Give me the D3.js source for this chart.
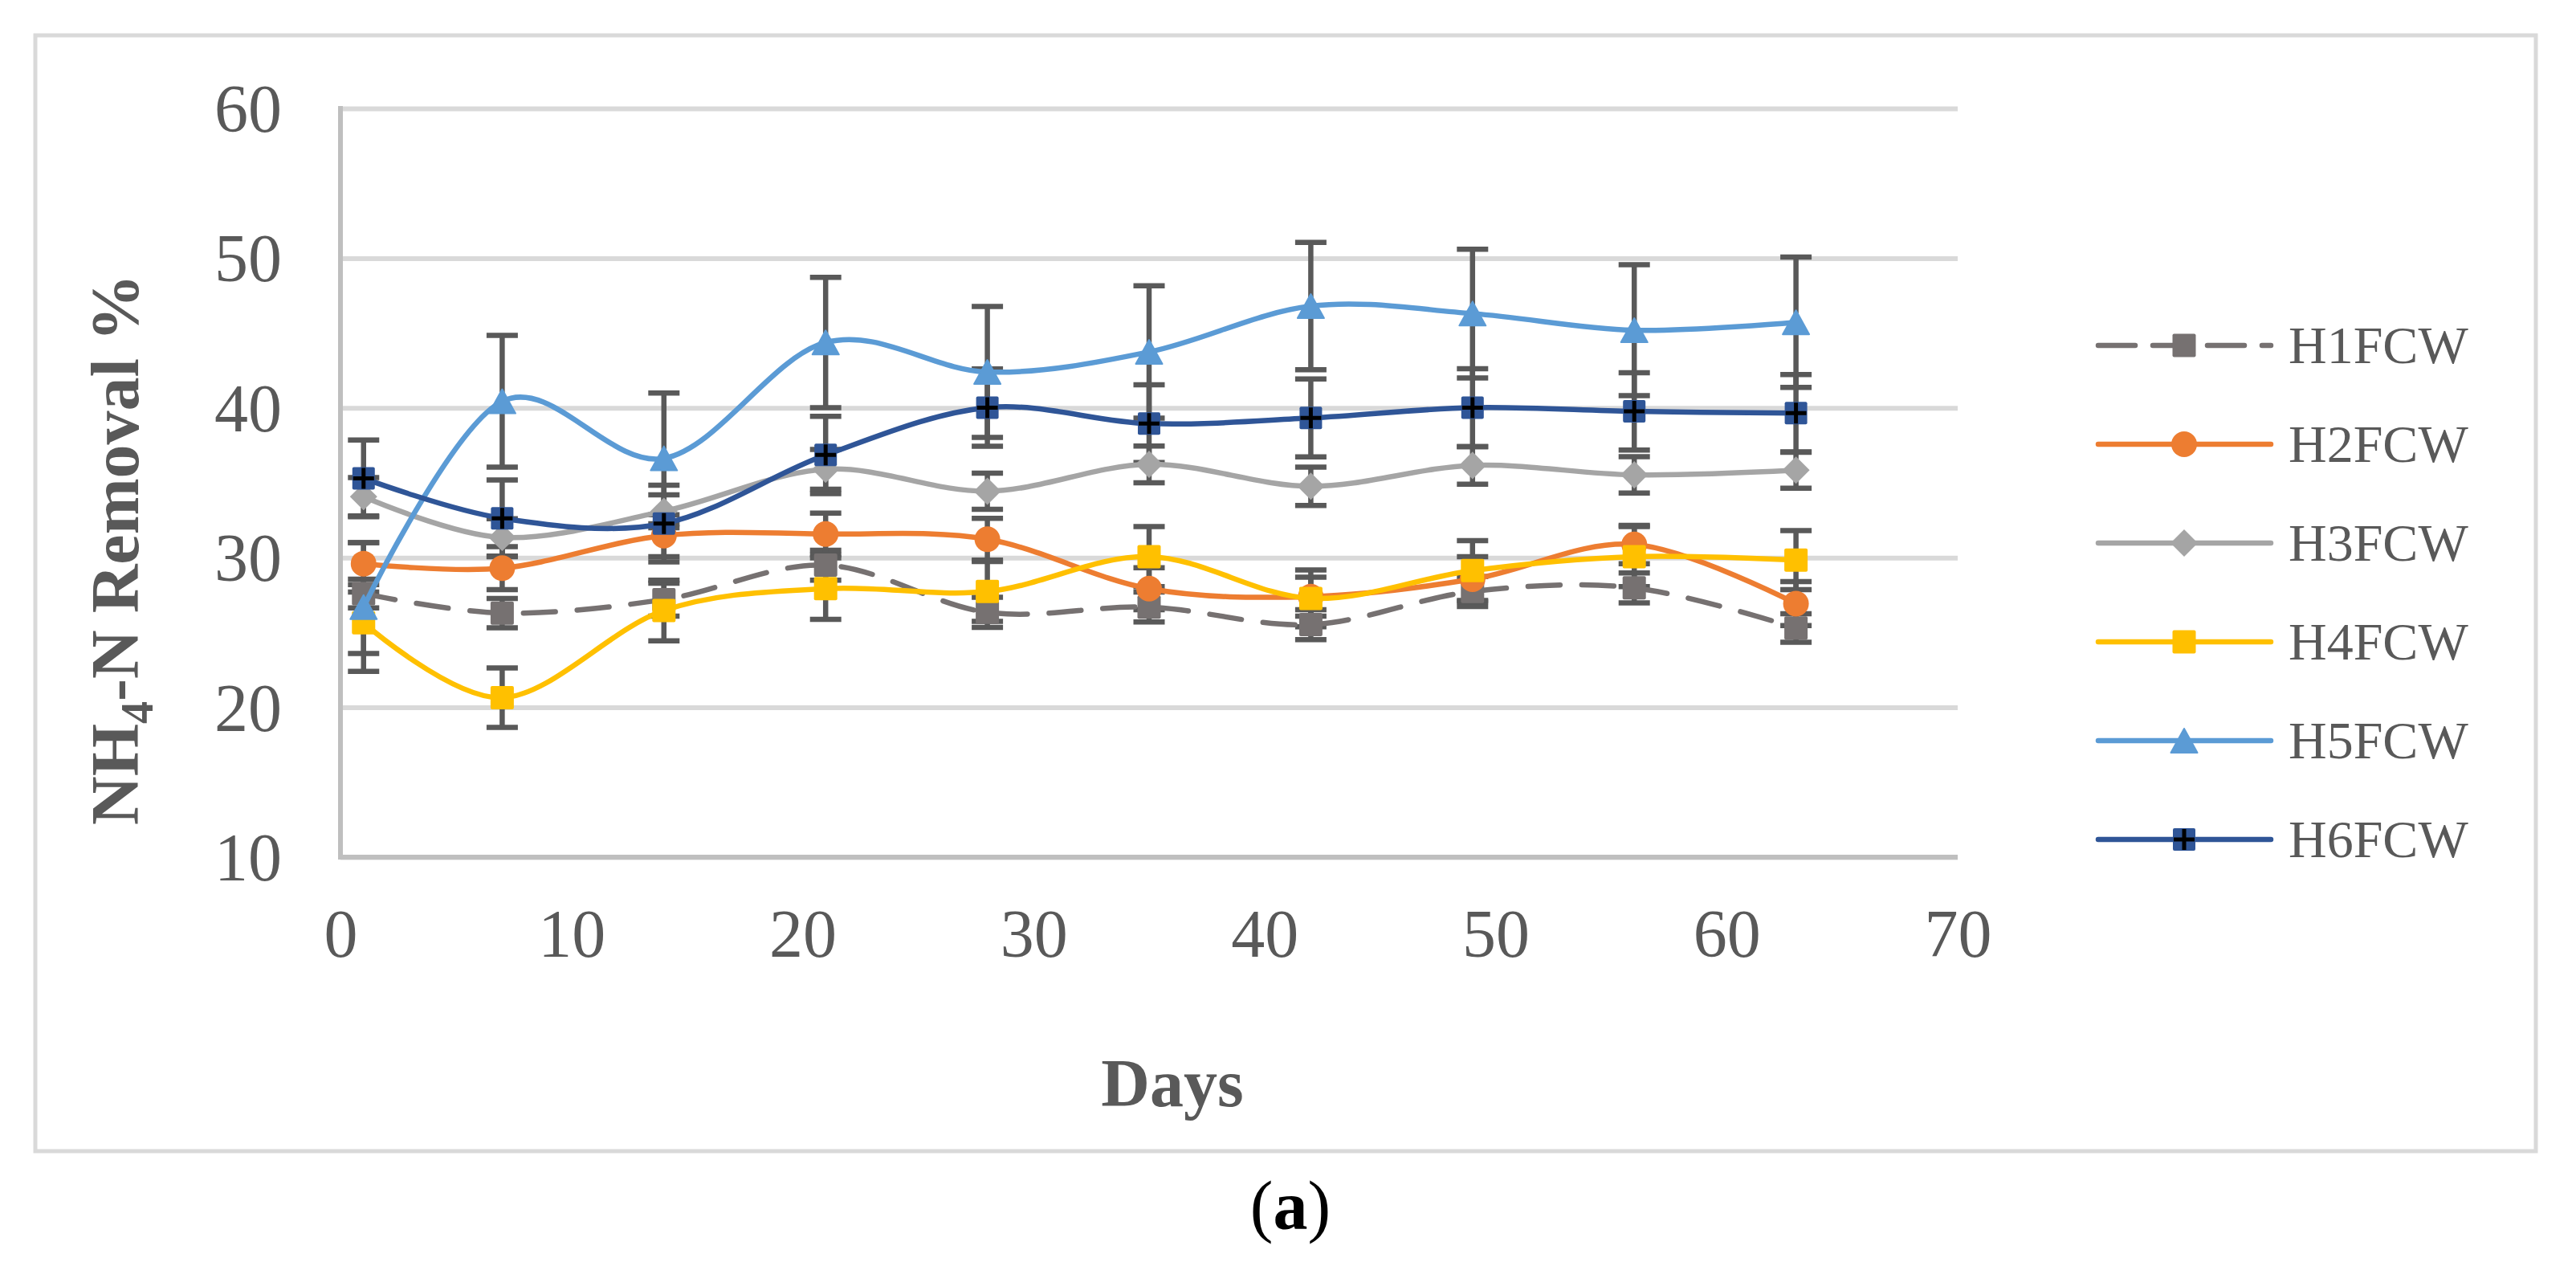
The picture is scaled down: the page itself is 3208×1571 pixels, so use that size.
<!DOCTYPE html>
<html>
<head>
<meta charset="utf-8">
<script src="https://cdn.jsdelivr.net/npm/d3@7"></script>
<style>
  body { margin: 0; background: #fff; }
  text { font-family: "Liberation Serif", "Times New Roman", serif; }
</style>
</head>
<body>
<div id="chart"></div>
<script>
const days = [1, 7, 14, 21, 28, 35, 42, 49, 56, 63];
const names = ["H1FCW", "H2FCW", "H3FCW", "H4FCW", "H5FCW", "H6FCW"];
const colors = ["#767171", "#ed7d31", "#a5a5a5", "#ffc000", "#5b9bd5", "#2f5597"];
const shapes = ["square", "circle", "diamond", "square", "triangle", "plus"];

const h1 = [27.6, 26.3, 27.2, 29.5, 26.35, 26.7, 25.53, 27.74, 27.98, 25.3];
const h2 = [29.6, 29.3, 31.47, 31.58, 31.23, 27.93, 27.4, 28.56, 30.88, 26.93];
const h3 = [34.07, 31.35, 33.1, 35.9, 34.44, 36.23, 34.77, 36.16, 35.53, 35.84];
const h4 = [25.65, 20.65, 26.47, 27.93, 27.74, 30.07, 27.28, 29.14, 30.07, 29.84];
const h5 = [26.7, 40.44, 36.63, 44.37, 42.4, 43.74, 46.8, 46.3, 45.19, 45.72];
const h6 = [35.3, 32.63, 32.28, 36.86, 40.02, 38.95, 39.33, 40.02, 39.77, 39.65];

const h1Err = [0.96, 0.98, 1.1, 1.0, 1.0, 1.0, 1.0, 1.0, 1.0, 0.95];
const h2Err = [1.4, 1.44, 1.4, 1.4, 1.4, 1.4, 1.3, 1.5, 1.28, 1.47];
const h3Err = [1.28, 1.25, 1.1, 1.33, 1.21, 1.23, 1.28, 1.25, 1.21, 1.2];
const h4Err = [2.05, 1.98, 2.03, 2.05, 2.0, 2.0, 1.9, 2.0, 2.0, 1.97];
const h5Err = [4.3, 4.4, 4.37, 4.35, 4.37, 4.42, 4.25, 4.3, 4.37, 4.35];
const h6Err = [2.56, 2.56, 2.56, 2.58, 2.58, 2.6, 2.6, 2.6, 2.58, 2.58];

const xTicks = [0, 10, 20, 30, 40, 50, 60, 70];
const yTicks = [10, 20, 30, 40, 50, 60];

const values = [h1, h2, h3, h4, h5, h6];
const errors = [h1Err, h2Err, h3Err, h4Err, h5Err, h6Err];

const series = names.map((name, i) => ({
    name: name,
    color: colors[i],
    shape: shapes[i],
    dashed: i === 0,
    points: days.map((d, j) => ({ day: d, value: values[i][j], err: errors[i][j] }))
}));

const width = 3208;
const height = 1571;
const plotLeft = 424, plotRight = 2438, plotTop = 135, plotBottom = 1067;
const textColor = "#595959";

const svg = d3.select("#chart")
    .append("svg")
    .attr("width", width)
    .attr("height", height);

svg.append("rect")
    .attr("x", 44).attr("y", 44)
    .attr("width", 3158 - 44).attr("height", 1433 - 44)
    .attr("fill", "#fff")
    .attr("stroke", "#d9d9d9")
    .attr("stroke-width", 5);

const xScale = d3.scaleLinear().domain([0, 70]).range([plotLeft, plotRight]);
const yScale = d3.scaleLinear().domain([10, 60]).range([plotBottom, plotTop]);

// gridlines
svg.append("g")
    .attr("transform", "translate(" + plotLeft + ",0)")
    .call(d3.axisLeft(yScale).tickValues(yTicks).tickSize(-(plotRight - plotLeft)).tickFormat(""))
    .call(g => g.select(".domain").remove())
    .call(g => g.selectAll("line").attr("stroke", "#d9d9d9").attr("stroke-width", 6));

// y axis labels
const yAxis = svg.append("g")
    .attr("transform", "translate(" + plotLeft + ",0)")
    .call(d3.axisLeft(yScale).tickValues(yTicks).tickSize(0).tickPadding(73).tickFormat(d3.format("d")));
yAxis.select(".domain").remove();
yAxis.selectAll("text")
    .attr("font-family", "Liberation Serif, Times New Roman, serif")
    .attr("font-size", 84)
    .attr("fill", textColor)
    .attr("dy", "0.34em");

// x axis labels
const xAxis = svg.append("g")
    .attr("transform", "translate(0," + plotBottom + ")")
    .call(d3.axisBottom(xScale).tickValues(xTicks).tickSize(0).tickFormat(d3.format("d")));
xAxis.select(".domain").remove();
xAxis.selectAll("text")
    .attr("font-family", "Liberation Serif, Times New Roman, serif")
    .attr("font-size", 84)
    .attr("fill", textColor)
    .attr("y", 124)
    .attr("dy", 0);

// axis lines
svg.append("line")
    .attr("x1", plotLeft).attr("x2", plotLeft)
    .attr("y1", plotTop - 3).attr("y2", plotBottom)
    .attr("stroke", "#bfbfbf").attr("stroke-width", 6);
svg.append("line")
    .attr("x1", plotLeft - 3).attr("x2", plotRight)
    .attr("y1", plotBottom).attr("y2", plotBottom)
    .attr("stroke", "#bfbfbf").attr("stroke-width", 6);

// error bars
const capW = 39;
const errG = svg.append("g")
    .attr("stroke", "#595959")
    .attr("stroke-width", 6.5);
series.forEach(s => {
    s.points.forEach(p => {
        const cx = xScale(p.day);
        const y1 = yScale(p.value + p.err);
        const y2 = yScale(p.value - p.err);
        errG.append("line").attr("x1", cx).attr("x2", cx).attr("y1", y1).attr("y2", y2);
        errG.append("line").attr("x1", cx - capW / 2).attr("x2", cx + capW / 2).attr("y1", y1).attr("y2", y1);
        errG.append("line").attr("x1", cx - capW / 2).attr("x2", cx + capW / 2).attr("y1", y2).attr("y2", y2);
    });
});

function drawMarker(g, shape, color, cx, cy) {
    if (shape === "square") {
        g.append("rect").attr("x", cx - 14.5).attr("y", cy - 14.5)
            .attr("width", 29).attr("height", 29).attr("rx", 2)
            .attr("fill", color);
    } else if (shape === "circle") {
        g.append("circle").attr("cx", cx).attr("cy", cy).attr("r", 16).attr("fill", color);
    } else if (shape === "diamond") {
        g.append("path")
            .attr("d", d3.symbol().type(d3.symbolSquare).size(580)())
            .attr("transform", "translate(" + cx + "," + cy + ") rotate(45)")
            .attr("fill", color);
    } else if (shape === "triangle") {
        g.append("path")
            .attr("d", "M0,-15L16.5,15L-16.5,15Z")
            .attr("transform", "translate(" + cx + "," + cy + ")")
            .attr("fill", color)
            .attr("stroke", color).attr("stroke-width", 2).attr("stroke-linejoin", "round");
    } else if (shape === "plus") {
        g.append("rect").attr("x", cx - 14).attr("y", cy - 14)
            .attr("width", 28).attr("height", 28).attr("rx", 2)
            .attr("fill", color);
        g.append("path")
            .attr("d", "M" + (cx - 13) + "," + cy + "H" + (cx + 13) + "M" + cx + "," + (cy - 13) + "V" + (cy + 13))
            .attr("stroke", "#000").attr("stroke-width", 5);
    }
}

const line = d3.line()
    .x(d => xScale(d.day))
    .y(d => yScale(d.value))
    .curve(d3.curveCardinal.tension(0));

series.forEach(s => {
    const g = svg.append("g");
    g.append("path")
        .datum(s.points)
        .attr("d", line)
        .attr("fill", "none")
        .attr("stroke", s.color)
        .attr("stroke-width", 6.5)
        .attr("stroke-linecap", "round")
        .attr("stroke-linejoin", "round")
        .attr("stroke-dasharray", s.dashed ? "40 27" : null);
    s.points.forEach(p => drawMarker(g, s.shape, s.color, xScale(p.day), yScale(p.value)));
});

// legend
const legendY = d3.scalePoint().domain(names).range([430, 1045]);
series.forEach(s => {
    const ly = legendY(s.name);
    const g = svg.append("g");
    g.append("line")
        .attr("x1", 2613).attr("x2", 2828)
        .attr("y1", ly).attr("y2", ly)
        .attr("stroke", s.color)
        .attr("stroke-width", 6.5)
        .attr("stroke-linecap", "round")
        .attr("stroke-dasharray", s.dashed ? "46 22" : null);
    drawMarker(g, s.shape, s.color, 2720, ly);
    g.append("text")
        .attr("x", 2850).attr("y", ly + 22)
        .attr("font-size", 66)
        .attr("fill", textColor)
        .text(s.name);
});

// axis titles
svg.append("text")
    .attr("x", 1460).attr("y", 1377)
    .attr("text-anchor", "middle")
    .attr("font-size", 84)
    .attr("font-weight", "bold")
    .attr("fill", textColor)
    .text("Days");

const yTitle = svg.append("text")
    .attr("transform", "translate(172,684) rotate(-90)")
    .attr("text-anchor", "middle")
    .attr("font-size", 84)
    .attr("font-weight", "bold")
    .attr("fill", textColor);
yTitle.append("tspan").text("NH");
yTitle.append("tspan").attr("font-size", 56).attr("dy", 18).text("4");
yTitle.append("tspan").attr("dy", -18).text("-N Removal %");

// caption
const cap = svg.append("text")
    .attr("x", 1607).attr("y", 1530)
    .attr("text-anchor", "middle")
    .attr("font-size", 86)
    .attr("fill", "#000");
cap.append("tspan").text("(");
cap.append("tspan").attr("font-weight", "bold").text("a");
cap.append("tspan").text(")");
</script>
</body>
</html>
